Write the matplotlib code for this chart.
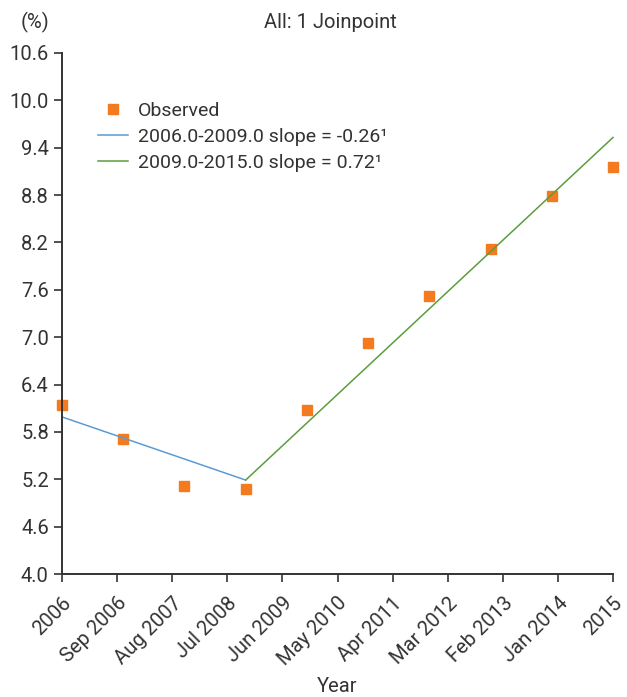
import numpy as np
import matplotlib
matplotlib.use('Agg')
import matplotlib.pyplot as plt

# Observed percentages per year
years = [2006, 2007, 2008, 2009, 2010, 2011, 2012, 2013, 2014, 2015]
observed = [6.14, 5.71, 5.12, 5.08, 6.08, 6.93, 7.52, 8.12, 8.79, 9.16]

# Joinpoint fitted segments (endpoints)
seg1_x = [2006, 2009]
seg1_y = [5.99, 5.19]
seg2_x = [2009, 2015]
seg2_y = [5.19, 9.53]

# Axis ticks
xtick_pos = np.linspace(2006, 2015, 11)
xtick_labels = ['2006', 'Sep 2006', 'Aug 2007', 'Jul 2008', 'Jun 2009', 'May 2010',
                'Apr 2011', 'Mar 2012', 'Feb 2013', 'Jan 2014', '2015']
ytick_pos = [4.0, 4.6, 5.2, 5.8, 6.4, 7.0, 7.6, 8.2, 8.8, 9.4, 10.0, 10.6]

plt.rcParams['font.family'] = ['Roboto', 'DejaVu Sans']
text_col = '#333333'

fig = plt.figure(figsize=(6.27, 6.97), dpi=100)
ax = fig.add_axes([62 / 627, 1 - 574 / 697, (613 - 62) / 627, (574 - 53) / 697])

ax.plot(years, observed, 's', color='#F47A20', markersize=7.5, linestyle='none', label='Observed')
ax.plot(seg1_x, seg1_y, color='#5B9BD5', linewidth=1.1, label='2006.0-2009.0 slope = -0.26¹')
ax.plot(seg2_x, seg2_y, color='#5A9E3C', linewidth=1.1, label='2009.0-2015.0 slope = 0.72¹')

ax.set_xlim(2006, 2015)
ax.set_ylim(4.0, 10.6)
ax.set_xticks(xtick_pos)
ax.set_xticklabels(xtick_labels, rotation=45, ha='right', rotation_mode='anchor')
ax.set_yticks(ytick_pos)
ax.set_yticklabels(['%.1f' % v for v in ytick_pos])
ax.tick_params(labelsize=14.5, colors=text_col, length=6, width=1.2, direction='out')
ax.tick_params(axis='x', pad=8)

for s in ['top', 'right']:
    ax.spines[s].set_visible(False)
for s in ['left', 'bottom']:
    ax.spines[s].set_color(text_col)
    ax.spines[s].set_linewidth(1.4)
ax.margins(0)
for p in ax.lines:
    p.set_clip_on(False)

ax.legend(loc='upper left', bbox_to_anchor=(0.034, 0.94), frameon=False, fontsize=14,
          handlelength=1.55, handletextpad=0.5, labelspacing=0.42, labelcolor=text_col)

fig.text(330 / 627, 1 - 22 / 697, 'All: 1 Joinpoint', ha='center', va='center', fontsize=14.5, color=text_col)
fig.text(35 / 627, 1 - 22 / 697, '(%)', ha='center', va='center', fontsize=14.5, color=text_col)
fig.text(337 / 627, 1 - 686 / 697, 'Year', ha='center', va='center', fontsize=14.5, color=text_col)

fig.savefig('out.png', dpi=100)
